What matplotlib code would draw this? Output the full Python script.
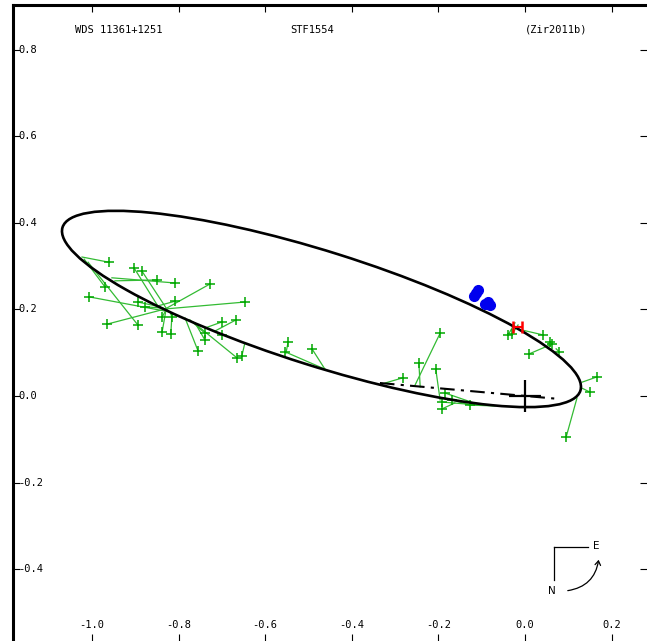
import numpy as np
import matplotlib
matplotlib.use('Agg')
import matplotlib.pyplot as plt
from matplotlib.patches import Ellipse, FancyArrowPatch
import matplotlib.transforms as mtrans

# orbita (elipse aparente)
orb_centro = (-0.470, 0.201)
orb_a = 0.627   # semieje mayor
orb_b = 0.132   # semieje menor
orb_ang = -17.5

# linea de nodos
nodos_x = [-0.335, 0.081]
nodos_y = [0.030, -0.007]

# observaciones (verde): posicion medida y posicion calculada en la orbita
obs_x = [-0.961, -0.808, -0.903, -0.885, -0.850, -0.727, -0.970, -1.007, -0.647, -0.894,
         -0.808, -0.878, -0.838, -0.815, -0.965, -0.894, -0.838, -0.818, -0.739, -0.739,
         -0.700, -0.667, -0.700, -0.755, -0.665, -0.654,
         -0.547, -0.554, -0.492,
         -0.196, -0.245, -0.206, -0.282, -0.185, -0.192, -0.192, -0.127, -0.169,
         -0.039, -0.030, 0.042, 0.058, 0.062, 0.079, 0.009, 0.166, 0.150, 0.095]
obs_y = [0.309, 0.261, 0.296, 0.289, 0.268, 0.259, 0.252, 0.229, 0.217, 0.217,
         0.219, 0.206, 0.182, 0.182, 0.166, 0.164, 0.148, 0.143, 0.145, 0.129,
         0.171, 0.176, 0.141, 0.104, 0.088, 0.092,
         0.125, 0.102, 0.109,
         0.145, 0.076, 0.062, 0.042, 0.007, -0.014, -0.030, -0.021, -0.009,
         0.141, 0.143, 0.141, 0.125, 0.120, 0.102, 0.097, 0.044, 0.009, -0.095]
calc_x = [-1.023, -0.954, -0.848, -0.824, -0.947, -0.831, -1.018, -0.820, -0.831, -0.843,
          -0.848, -0.836, -0.829, -0.820, -0.831, -1.009, -0.829, -0.815, -0.774, -0.762,
          -0.739, -0.716, -0.709, -0.785, -0.767, -0.647,
          -0.552, -0.462, -0.462,
          -0.254, -0.242, -0.196, -0.323, -0.104, -0.104, -0.162, -0.069, -0.127,
          -0.023, -0.016, -0.005, 0.053, 0.058, 0.072, 0.058, 0.132, 0.132, 0.120]
calc_y = [0.321, 0.273, 0.208, 0.196, 0.266, 0.201, 0.316, 0.194, 0.201, 0.206,
          0.208, 0.203, 0.199, 0.194, 0.201, 0.309, 0.199, 0.192, 0.176, 0.169,
          0.157, 0.150, 0.145, 0.180, 0.171, 0.122,
          0.099, 0.062, 0.062,
          0.025, 0.021, -0.009, 0.030, -0.021, -0.021, -0.016, -0.023, -0.021,
          0.169, 0.164, 0.152, 0.120, 0.115, 0.109, 0.118, 0.032, 0.018, -0.005]

# medidas azules
azul_x = [-0.113, -0.109, -0.118, -0.092, -0.086, -0.080]
azul_y = [0.238, 0.245, 0.231, 0.212, 0.216, 0.210]

# medida roja con barra de error
rojo_x = [-0.017]
rojo_y = [0.159]
rojo_err = [0.010]

xticks = [-1.0, -0.8, -0.6, -0.4, -0.2, 0.0, 0.2]
yticks = [-0.4, -0.2, 0.0, 0.2, 0.4, 0.6, 0.8]

fuente = 'DejaVu Sans Mono'

fig = plt.figure(figsize=(6.47, 6.41), dpi=100)
ax = fig.add_axes([13/647., 0, 634/647., 636/641.])
ax.set_xlim(-1.1824, 0.2818)
ax.set_ylim(-0.5658, 0.903)

# lineas de residuos y observaciones
for i in range(len(obs_x)):
    ax.plot([obs_x[i], calc_x[i]], [obs_y[i], calc_y[i]], color='#33bb33', lw=0.9, zorder=2)
ax.plot(obs_x, obs_y, '+', color='#00a800', ms=7, mew=1.1, zorder=3)

# elipse
ax.add_patch(Ellipse(orb_centro, 2*orb_a, 2*orb_b, angle=orb_ang, fill=False,
                     ec='black', lw=1.9, zorder=4))
ax.plot(nodos_x, nodos_y, color='black', lw=1.5, dashes=(7, 3, 1.5, 3), zorder=4)
ax.plot([0], [0], '+', color='black', ms=23, mew=1.6, zorder=5)

ax.plot(azul_x, azul_y, 'o', color='#0000ee', ms=7, zorder=5)
ax.errorbar(rojo_x, rojo_y, xerr=rojo_err, fmt='none', ecolor='red', elinewidth=1.5,
            capsize=4, capthick=1.8, zorder=5)

# ejes
for s in ['right', 'bottom']:
    ax.spines[s].set_visible(False)
for s in ['left', 'top']:
    ax.spines[s].set_linewidth(2.2)
ax.set_xticks(xticks)
ax.set_yticks(yticks)
ax.tick_params(direction='in', length=5, width=0.8, top=True, right=True,
               labelleft=False, labelbottom=False)

tr_y = mtrans.blended_transform_factory(ax.transAxes, ax.transData)
for v in yticks:
    ax.text(0.008, v, '%.1f' % v, transform=tr_y, ha='left', va='center',
            family=fuente, fontsize=7.5)
tr_x = mtrans.blended_transform_factory(ax.transData, ax.transAxes)
for v in xticks:
    ax.text(v, 0.025, '%.1f' % v, transform=tr_x, ha='center', va='center',
            family=fuente, fontsize=7.5)

ax.text(0.098, 0.961, 'WDS 11361+1251', transform=ax.transAxes, ha='left', va='center',
        family=fuente, fontsize=7.5)
ax.text(0.437, 0.961, 'STF1554', transform=ax.transAxes, ha='left', va='center',
        family=fuente, fontsize=7.5)
ax.text(0.808, 0.961, '(Zir2011b)', transform=ax.transAxes, ha='left', va='center',
        family=fuente, fontsize=7.5)

# brujula
ax.plot([0.8538, 0.9074], [0.1483, 0.1483], color='black', lw=0.9, transform=ax.transAxes)
ax.plot([0.8538, 0.8538], [0.1483, 0.0959], color='black', lw=0.9, transform=ax.transAxes)
ax.text(0.9203, 0.1494, 'E', transform=ax.transAxes, ha='center', va='center',
        family='DejaVu Sans', fontsize=7.5)
ax.text(0.8494, 0.0786, 'N', transform=ax.transAxes, ha='center', va='center',
        family='DejaVu Sans', fontsize=7.5)
ax.add_patch(FancyArrowPatch((0.8707, 0.0786), (0.9243, 0.132), transform=ax.transAxes,
                             connectionstyle='arc3,rad=0.4', arrowstyle='->,head_length=3,head_width=2',
                             color='black', lw=0.9))

fig.savefig('out.png', dpi=100)
